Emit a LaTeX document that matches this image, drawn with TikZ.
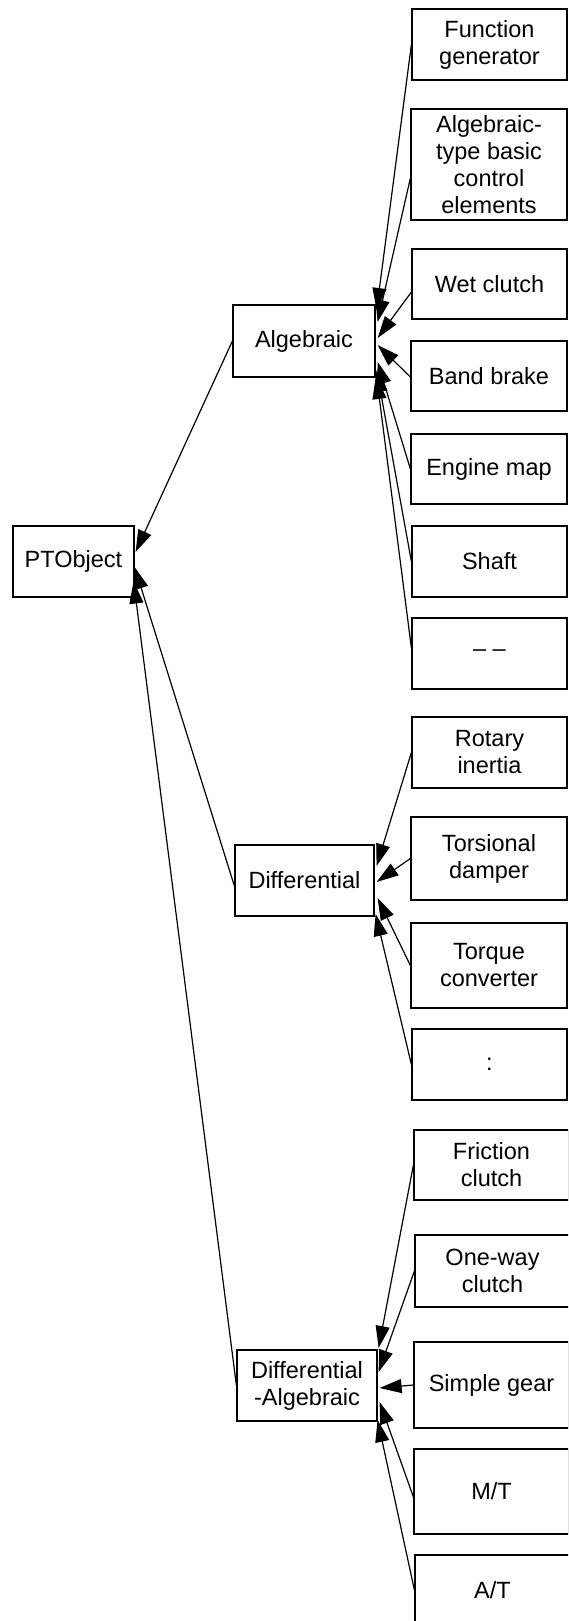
\documentclass[tikz,border=0pt]{standalone}
\usepackage{fontspec}
\setmainfont{Liberation Sans}
\usetikzlibrary{arrows.meta,calc}

\tikzset{
  box/.style={draw, line width=1.2pt, inner sep=0pt, align=center,
    font=\fontsize{23.5}{27}\selectfont, minimum width=#1},
  box/.default=155pt,
  arr/.style={-{Triangle[length=22pt,width=14pt]}, line width=1.2pt},
}

\begin{document}
\begin{tikzpicture}[x=1pt,y=-1pt]
\useasboundingbox (0,0) rectangle (568,1621);
\clip (0,0) rectangle (568,1621);

% root and the three model classes
\node[box=121pt, minimum height=71pt] (pt)  at (73.5,561.5) {PTObject};
\node[box=142pt, minimum height=72pt] (alg) at (304,341) {Algebraic};
\node[box=139pt, minimum height=71pt] (dif) at (304.5,880.5) {Differential};
\node[box=140pt, minimum height=71pt] (da)  at (307,1385.5) {Differential\\-Algebraic};

% algebraic components
\node[box, minimum height=71pt]  (fg)    at (489.5,44.5)  {Function\\generator};
\node[box=156pt, minimum height=111pt] (ate) at (489,164.5) {Algebraic-\\type basic\\control\\elements};
\node[box, minimum height=70pt]  (wet)   at (489.5,284)   {Wet clutch};
\node[box=156pt, minimum height=70pt] (band) at (489,376) {Band brake};
\node[box=156pt, minimum height=70pt] (eng)  at (489,469) {Engine map};
\node[box, minimum height=71pt]  (shaft) at (489.5,561.5) {Shaft};
\node[box, minimum height=71pt]  (dash)  at (489.5,653.5) {– –};

% differential components
\node[box, minimum height=71pt]  (rot)  at (489.5,752.5) {Rotary\\inertia};
\node[box=156pt, minimum height=83pt] (tors) at (489,858.5) {Torsional\\damper};
\node[box=156pt, minimum height=85pt] (tq)   at (489,965.5) {Torque\\converter};
\node[box, minimum height=71pt]  (col)  at (489.5,1064.5) {:};

% differential-algebraic components
\node[box, minimum height=70pt] (fric) at (491.5,1165)   {Friction\\clutch};
\node[box, minimum height=72pt] (ow)   at (492.5,1271)   {One-way\\clutch};
\node[box, minimum height=86pt] (sg)   at (491.5,1385)   {Simple gear};
\node[box, minimum height=85pt] (mt)   at (491.5,1491.5) {M/T};
\node[box, minimum height=70pt] (at)   at (492.5,1590)   {A/T};

% inheritance arrows into Algebraic
\draw[arr] (fg.west) -- ($(alg.east)+(1,-31)$);
\draw[arr] ($(ate.west)+(0,13.5)$) -- ($(alg.east)+(2,-19)$);
\draw[arr] ($(wet.west)+(0,8)$) -- ($(alg.east)+(2,-3)$);
\draw[arr] ($(band.west)+(0,1)$) -- ($(alg.east)+(2,4)$);
\draw[arr] (eng.west) -- ($(alg.east)+(2,21)$);
\draw[arr] (shaft.west) -- ($(alg.east)+(1,29)$);
\draw[arr] ($(dash.west)+(0,-5.5)$) -- ($(alg.east)+(1,36)$);

% inheritance arrows into Differential
\draw[arr] (rot.west) -- ($(dif.east)+(2,-14.5)$);
\draw[arr] (tors.west) -- ($(dif.east)+(2,1.5)$);
\draw[arr] (tq.west) -- ($(dif.east)+(3,17.5)$);
\draw[arr] (col.west) -- ($(dif.east)+(1,33.5)$);

% inheritance arrows into Differential-Algebraic
\draw[arr] (fric.west) -- ($(da.east)+(1,-37.5)$);
\draw[arr] (ow.west) -- ($(da.east)+(1,-13.5)$);
\draw[arr] (sg.west) -- ($(da.east)+(2,2.5)$);
\draw[arr] ($(mt.west)+(0,5.5)$) -- ($(da.east)+(2,16.5)$);
\draw[arr] (at.west) -- ($(da.east)+(0,34.5)$);

% model classes into PTObject
\draw[arr] (alg.west) -- ($(pt.east)+(1,-9.5)$);
\draw[arr] ($(dif.west)+(0,5.5)$) -- ($(pt.east)+(0,5.5)$);
\draw[arr] (da.west) -- ($(pt.east)+(-1,20)$);
\end{tikzpicture}
\end{document}
